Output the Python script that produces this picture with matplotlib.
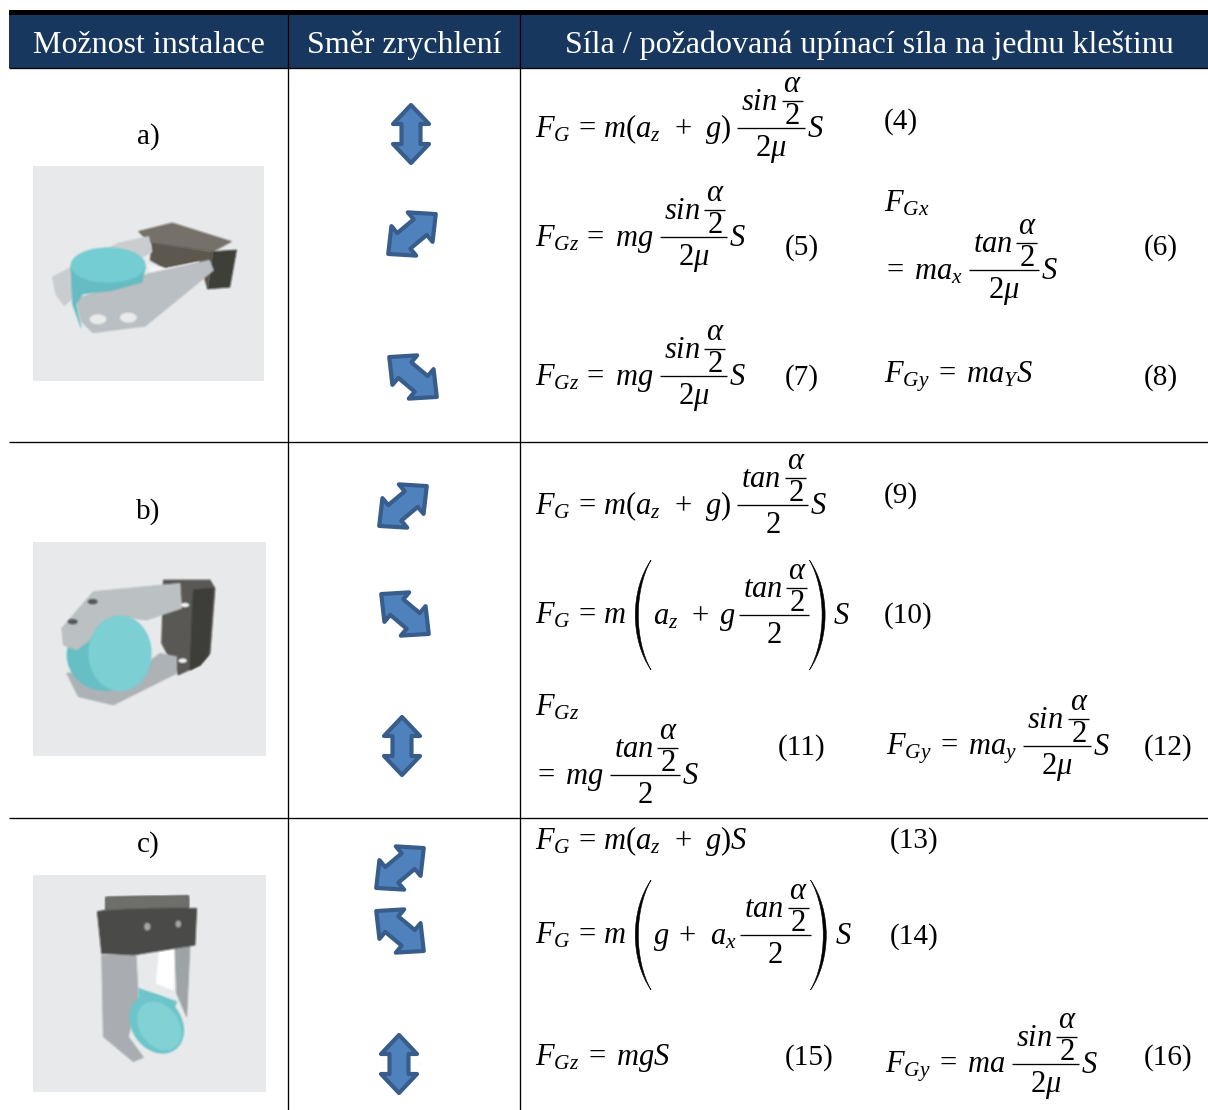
import matplotlib
matplotlib.use('Agg')
import matplotlib.pyplot as plt
import numpy as np
from matplotlib.patches import Ellipse, PathPatch, Polygon, Rectangle
from matplotlib.path import Path
from matplotlib.transforms import Affine2D

plt.rcParams['mathtext.fontset'] = 'custom'
plt.rcParams['mathtext.rm'] = 'Liberation Serif'
plt.rcParams['mathtext.it'] = 'Liberation Serif:italic'
plt.rcParams['font.family'] = ['Liberation Serif', 'DejaVu Serif']

W, H = 1208, 1110
NAVY = '#17375e'
HEADERS = ['Možnost instalace', 'Směr zrychlení', 'Síla / požadovaná upínací síla na jednu kleštinu']
HEADER_X = [149, 404, 869]
ROW_LABELS = ['a)', 'b)', 'c)']
ROW_LABEL_Y = [144, 519, 852]
PANELS = [(33, 166, 231, 215), (33, 542, 233, 214), (33, 875, 233, 217)]

# arrow centre x, y, angle
ARROWS = [(411, 134, 90), (412, 234, 40), (413, 377, -40),
          (403, 506, 40), (405, 614, -40), (402, 746, 90),
          (400, 868, 40), (400, 931, -40), (399, 1064, 90)]

# x, fraction line y, left part, numerator, denominator
FRACTIONS = [
    (535, 128, r'F_G\,=\,m(a_z\,\;+\;\,g)', 'sin', r'2\mu'),
    (535, 237, r'F_{Gz}\,=\,\,mg', 'sin', r'2\mu'),
    (882, 270, r'=\;ma_x', 'tan', r'2\mu'),
    (535, 376, r'F_{Gz}\,=\,\,mg', 'sin', r'2\mu'),
    (535, 505, r'F_G\,=\,m(a_z\,\;+\;\,g)', 'tan', '2'),
    (533, 775, r'=\;mg', 'tan', '2'),
    (886, 746, r'F_{Gy}\;=\;ma_y', 'sin', r'2\mu'),
    (885, 1064, r'F_{Gy}\;=\;ma', 'sin', r'2\mu'),
]
# x, fraction line y, left part, bracket content
BRACKETS = [
    (535, 615, r'F_G\,=\,m', r'a_z\,\;+\;g'),
    (535, 935, r'F_G\,=\,m', r'g\;+\,\;a_x'),
]
PLAIN = [
    (884, 212, r'F_{Gx}'),
    (884, 383, r'F_{Gy}\;=\;ma_YS'),
    (535, 716, r'F_{Gz}'),
    (535, 849, r'F_G\,=\,m(a_z\,\;+\;\,g)S'),
    (535, 1065, r'F_{Gz}\;=\;mgS'),
]
NUMBERS = [(884, 129, '(4)'), (785, 255, '(5)'), (1144, 255, '(6)'), (785, 385, '(7)'),
           (1144, 385, '(8)'), (884, 503, '(9)'), (884, 623, '(10)'), (778, 755, '(11)'),
           (1144, 755, '(12)'), (890, 848, '(13)'), (890, 944, '(14)'), (785, 1065, '(15)'),
           (1144, 1065, '(16)')]

MATH_SIZE = 22
fig = plt.figure(figsize=(W / 100, H / 100), dpi=100)
ax = fig.add_axes([0, 0, 1, 1])
ax.set_xlim(0, W)
ax.set_ylim(H, 0)
ax.axis('off')
renderer = fig.canvas.get_renderer()


def box_blur(a):
    for axis in (0, 1):
        a = (np.roll(a, -1, axis) + a + np.roll(a, 1, axis)) / 3
    return a


def soften(img, dpi):
    # small blur so the drawn grippers look like the soft photo
    pad = 4
    out = np.pad(img, ((pad, pad), (pad, pad), (0, 0)))
    alpha = out[..., 3]
    blurred = box_blur(alpha)
    safe = np.where(blurred > 0, blurred, 1)
    for c in range(3):
        out[..., c] = box_blur(out[..., c] * alpha) / safe
    out[..., 3] = blurred
    return out, -pad, -pad


def put(x, y, s, size=MATH_SIZE, ha='left'):
    t = ax.text(x, y, '$' + s + '$', fontsize=size, ha=ha, va='baseline', color='black')
    return t.get_window_extent(renderer).width


def rule(x0, x1, y, lw=0.95):
    ax.plot([x0, x1], [y, y], color='black', lw=lw, solid_capstyle='butt')


def fraction(x, y, func, den):
    # numerator holds a small alpha/2 fraction next to the function name
    w = put(x + 4, y - 18, func)
    inner = x + 4 + w + 4
    put(inner + 11, y - 36, r'\alpha', ha='center')
    rule(inner, inner + 21, y - 27)
    ax.text(inner + 11, y - 4, '2', fontsize=MATH_SIZE, ha='center', va='baseline')
    end = inner + 23
    rule(x, end, y)
    put((x + end) / 2, y + 28, den, ha='center')
    return end


def bracket(x, y, left=True):
    # crescent shaped tall bracket
    d = 1 if left else -1
    xo = x if left else x + 16
    verts = [(xo + d * 16, y - 55), (xo - d * 5, y - 25), (xo - d * 5, y + 25), (xo + d * 16, y + 55),
             (xo - d * 1, y + 25), (xo - d * 1, y - 25), (xo + d * 16, y - 55)]
    codes = [Path.MOVETO, Path.CURVE4, Path.CURVE4, Path.CURVE4, Path.CURVE4, Path.CURVE4, Path.CURVE4]
    ax.add_patch(PathPatch(Path(verts, codes), fc='black', ec='black', lw=0.4))


def arrow(cx, cy, angle):
    pts = [(-29, 0), (-10, -18), (-10, -9.5), (10, -9.5), (10, -18), (29, 0),
           (10, 18), (10, 9.5), (-10, 9.5), (-10, 18)]
    size = 1.0 if angle == 90 else 1.07
    tr = Affine2D().scale(size).rotate_deg(-angle).translate(cx, cy) + ax.transData
    ax.add_patch(Polygon(pts, closed=True, fc='#4f81bd', ec='#385d8a', lw=3,
                         joinstyle='round', transform=tr))


def poly(pts, color, ox, oy, s):
    p = Polygon([(ox + a / s, oy + b / s) for a, b in pts], closed=True,
                fc=color, ec=color, lw=0.6, joinstyle='round')
    p.set_agg_filter(soften)
    ax.add_patch(p)


def ell(x, y, w, h, color, ox, oy, s, angle=0):
    p = Ellipse((ox + x / s, oy + y / s), w / s, h / s, angle=angle, fc=color, ec='none')
    p.set_agg_filter(soften)
    ax.add_patch(p)


def gripper_a():
    o = (0, 0, 2.96)
    poly([(410, 685), (510, 660), (685, 715), (630, 745), (450, 725)], '#75716a', *o)
    poly([(450, 720), (630, 745), (615, 855), (590, 775), (490, 795), (445, 770)], '#5c5950', *o)
    poly([(630, 745), (700, 740), (680, 850), (615, 855)], '#3f3f3b', *o)
    poly([(155, 820), (350, 720), (440, 700), (450, 745), (240, 860), (190, 905), (165, 870)], '#c9cdcf', *o)
    poly([(440, 785), (490, 795), (590, 775), (560, 800), (450, 830)], '#f4f5f5', *o)
    poly([(225, 885), (440, 810), (620, 770), (632, 800), (430, 965), (275, 985), (240, 950)], '#b9bfc2', *o)
    poly([(210, 790), (430, 790), (420, 835), (330, 860), (245, 870), (225, 900), (240, 970), (215, 900)], '#66bcc2', *o)
    ell(320, 785, 222, 105, '#74cdd2', *o)
    ell(290, 945, 50, 30, '#e9ebec', *o)
    ell(380, 940, 50, 30, '#e9ebec', *o)


def gripper_b():
    o = (0, 530, 3)
    poly([(490, 150), (630, 150), (645, 175), (630, 370), (600, 405), (535, 435), (485, 340)], '#5a5954', *o)
    poly([(580, 180), (640, 175), (625, 375), (600, 405), (570, 420)], '#3d3d3a', *o)
    poly([(200, 430), (440, 400), (480, 370), (530, 380), (530, 430), (340, 525), (235, 500)], '#aeb3b6', *o)
    ell(315, 375, 230, 215, '#66bfc5', *o)
    poly([(185, 295), (280, 185), (540, 160), (545, 235), (440, 270), (360, 260), (230, 360), (190, 345)], '#bbc0c3', *o)
    ell(360, 370, 190, 228, '#7ccfd3', *o)
    ell(278, 215, 30, 16, '#55585a', *o)
    ell(218, 275, 30, 16, '#55585a', *o)
    ell(555, 225, 26, 14, '#f0f1f2', *o)
    ell(548, 392, 26, 14, '#f0f1f2', *o)


def gripper_c():
    o = (0, 820, 3)
    poly([(478, 395), (525, 385), (520, 510), (468, 490)], '#ffffff', *o)
    poly([(525, 385), (570, 375), (560, 590), (530, 520)], '#9ea3a6', *o)
    poly([(305, 405), (408, 405), (415, 535), (385, 650), (430, 712), (400, 725), (310, 650)], '#a9aeb2', *o)
    poly([(318, 232), (565, 228), (565, 265), (590, 265), (585, 375), (400, 405), (305, 400), (292, 275), (318, 270)], '#4a4b48', *o)
    poly([(318, 232), (565, 228), (565, 262), (400, 265), (318, 270)], '#6e6e6a', *o)
    poly([(415, 505), (530, 545), (500, 620), (420, 560)], '#6cc5ca', *o)
    ell(470, 612, 150, 190, '#6cc5ca', 0, 820, 3, angle=-35)
    ell(478, 618, 118, 160, '#82d1d5', 0, 820, 3, angle=-35)
    ell(442, 320, 20, 24, '#a3a5a3', *o)
    ell(535, 312, 18, 22, '#a3a5a3', *o)


# header and grid
ax.add_patch(Rectangle((9, 10), W - 9, 5, fc='black', ec='none'))
ax.add_patch(Rectangle((9, 15), W - 9, 53, fc=NAVY, ec='none'))
for x, s in zip(HEADER_X, HEADERS):
    ax.text(x, 53, s, color='white', fontsize=23, ha='center', va='baseline')
for y in [68, 442, 818]:
    rule(9, W, y)
for x in [288, 520]:
    ax.plot([x, x], [15, H], color='black', lw=0.95)

for (x, y, w, h), y_lab, lab in zip(PANELS, ROW_LABEL_Y, ROW_LABELS):
    ax.add_patch(Rectangle((x, y), w, h, fc='#e8e9eb', ec='none'))
    ax.text(148, y_lab, lab, fontsize=21, ha='center', va='baseline')
gripper_a()
gripper_b()
gripper_c()

for cx, cy, angle in ARROWS:
    arrow(cx, cy, angle)

for x, y, left, func, den in FRACTIONS:
    w = put(x, y + 9, left)
    end = fraction(x + w + 6, y, func, den)
    put(end + 2, y + 9, 'S')

for x, y, left, inside in BRACKETS:
    w = put(x, y + 9, left)
    b0 = x + w + 9
    bracket(b0, y)
    w2 = put(b0 + 18, y + 9, inside)
    end = fraction(b0 + 18 + w2 + 3, y, 'tan', '2')
    bracket(end, y, left=False)
    put(end + 24, y + 9, 'S')

for x, y, s in PLAIN:
    put(x, y, s)

for x, y, s in NUMBERS:
    ax.text(x, y, s, fontsize=21, ha='left', va='baseline')

fig.savefig('out.png', dpi=100)
